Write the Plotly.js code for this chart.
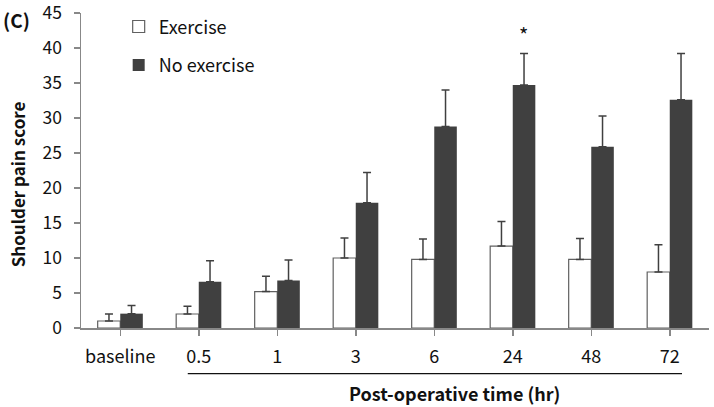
<!DOCTYPE html>
<html>
<head>
<meta charset="utf-8">
<script src="https://cdn.plot.ly/plotly-3.0.1.min.js"></script>
<style>html,body{margin:0;padding:0;background:#fff}#chart{width:714px;height:407px}</style>
</head>
<body>
<div id="chart"></div>
<script>
const categories = ["baseline", "0.5", "1", "3", "6", "24", "48", "72"];
const exerciseMean = [1.0, 2.0, 5.2, 10.0, 9.8, 11.7, 9.8, 8.0];
const exerciseErr = [1.0, 1.1, 2.2, 2.85, 2.9, 3.5, 3.0, 3.9];
const noExerciseMean = [2.05, 6.6, 6.8, 17.9, 28.8, 34.7, 25.9, 32.6];
const noExerciseErr = [1.15, 3.0, 2.9, 4.3, 5.2, 4.5, 4.4, 6.6];
const seriesNames = ["Exercise", "No exercise"];
const starCategory = "24";
const starValue = 42.0;

const FONT = "'Noto Sans CJK KR', 'Noto Sans', sans-serif";
const DARK = "#404040";
const AXIS = "#888888";

const traces = [
  {
    type: "bar", name: seriesNames[0], x: categories, y: exerciseMean,
    legendgroup: "a",
    marker: {color: "#ffffff", line: {color: "#606060", width: 1.2}},
    error_y: {type: "data", array: exerciseErr, arrayminus: exerciseErr.map(() => 0), symmetric: false,
              color: DARK, thickness: 1.5, width: 4}
  },
  {
    type: "bar", name: seriesNames[1], x: categories, y: noExerciseMean,
    legendgroup: "b",
    marker: {color: DARK, line: {color: DARK, width: 0}},
    error_y: {type: "data", array: noExerciseErr, arrayminus: noExerciseErr.map(() => 0), symmetric: false,
              color: DARK, thickness: 1.5, width: 4}
  }
];

const layout = {
  width: 714, height: 407,
  margin: {l: 81, r: 5, t: 13, b: 79},
  paper_bgcolor: "#fff", plot_bgcolor: "#fff",
  font: {family: FONT, size: 18, color: "#111"},
  barmode: "group", bargap: 0.425, bargroupgap: 0,
  showlegend: true,
  legend: {x: 0.06, y: 1.015, xanchor: "left", yanchor: "top", bgcolor: "rgba(0,0,0,0)",
           traceorder: "grouped", tracegroupgap: 12, font: {family: FONT, size: 18, color: "#111"}},
  xaxis: {
    type: "category", range: [-0.5, 7.5], autorange: false, tickangle: 0,
    showgrid: false, zeroline: false,
    showline: true, linecolor: AXIS, linewidth: 1.5,
    ticks: "outside", ticklen: 6, tickcolor: AXIS, tickwidth: 1.5,
    tickfont: {family: FONT, size: 18, color: "#111"},
    ticklabelstandoff: 6
  },
  yaxis: {
    range: [0, 45], autorange: false, dtick: 5, showgrid: false, zeroline: false,
    showline: true, linecolor: AXIS, linewidth: 1.5,
    ticks: "outside", ticklen: 6, tickcolor: AXIS, tickwidth: 1.5,
    tickfont: {family: FONT, size: 17.5, color: "#111"},
    ticklabelstandoff: 8, ticklabeloverflow: "allow"
  },
  shapes: [
    {type: "line", xref: "paper", yref: "paper", x0: 0.170, x1: 0.957, y0: -0.145, y1: -0.145,
     line: {color: "#111", width: 1.2}}
  ],
  annotations: [
    {xref: "paper", yref: "paper", x: 0.594, y: -0.205, yanchor: "middle", xanchor: "center", showarrow: false,
     text: "<b>Post-operative time (hr)</b>", font: {family: FONT, size: 18, color: "#111"}},
    {xref: "paper", yref: "paper", x: -0.102, y: 0.456, xanchor: "center", yanchor: "middle", showarrow: false,
     textangle: -90, text: "<b>Shoulder pain score</b>", font: {family: FONT, size: 17, color: "#111"}},
    {xref: "paper", yref: "paper", x: -0.127, y: 0.98, xanchor: "left", yanchor: "middle", showarrow: false,
     text: "<b>(C)</b>", font: {family: FONT, size: 19, color: "#111"}},
    {x: categories.indexOf(starCategory), y: starValue, xref: "x", yref: "y", xshift: 11, showarrow: false,
     text: "*", font: {family: FONT, size: 20, color: "#111"}}
  ]
};

Plotly.newPlot("chart", traces, layout, {displayModeBar: false, staticPlot: true});
</script>
</body>
</html>
